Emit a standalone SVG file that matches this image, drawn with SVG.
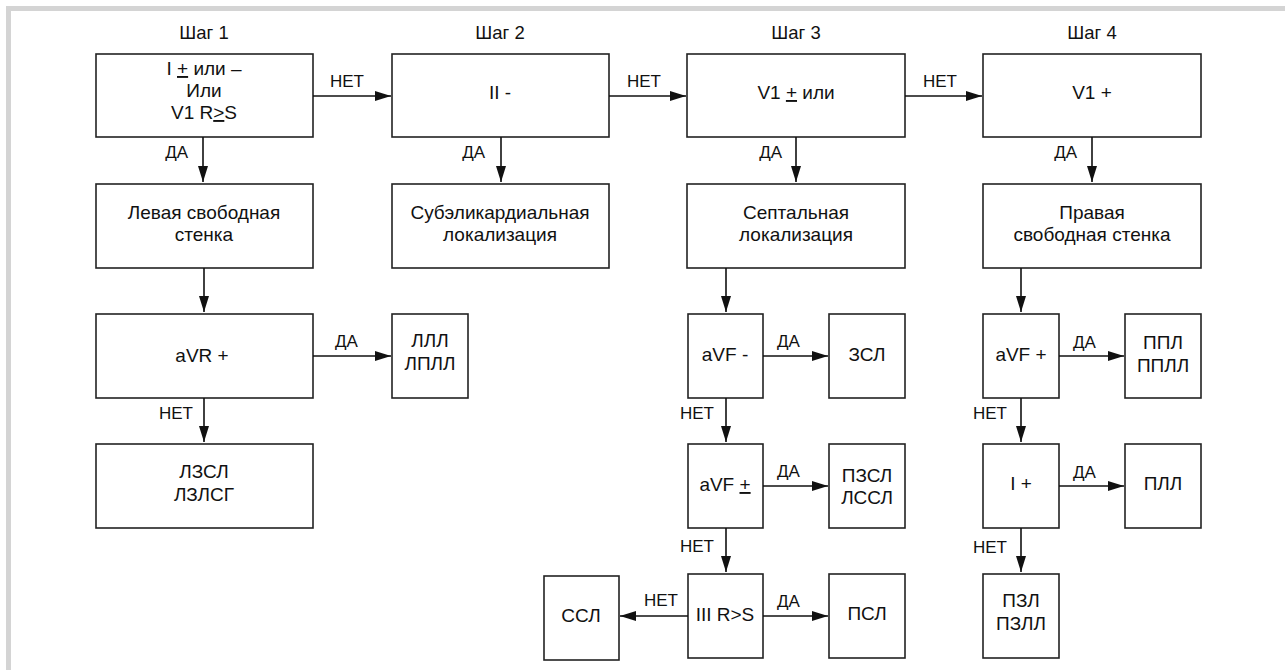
<svg xmlns="http://www.w3.org/2000/svg" width="1285" height="670" viewBox="0 0 1285 670">
<defs>
<style>
.box{fill:#fff;stroke:#222;stroke-width:1.6}
text{font-family:"Liberation Sans",Arial,sans-serif;font-size:19px;fill:#111}
.c{text-anchor:middle}
.e{text-anchor:end}
.l{font-size:17px}
.h{font-size:18.5px}
.u{text-decoration:underline}
.con line{stroke:#111;stroke-width:1.6;marker-end:url(#ah)}
</style>
<marker id="ah" markerWidth="16" markerHeight="10" refX="16" refY="5" orient="auto" markerUnits="userSpaceOnUse"><path d="M0,0 L16,5 L0,10 z" fill="#111"/></marker>
</defs>
<rect width="1285" height="670" fill="#fff"/>
<path d="M8.5,670 V8.5 H1285" fill="none" stroke="#d4d4d4" stroke-width="5"/>

<g id="headers">
<text class="c h" x="204" y="39">Шаг 1</text>
<text class="c h" x="500" y="39">Шаг 2</text>
<text class="c h" x="796" y="39">Шаг 3</text>
<text class="c h" x="1092" y="39">Шаг 4</text>
</g>

<g id="n1"><rect class="box" x="96" y="54" width="217" height="83"/>
<text class="c" x="204" y="75">I <tspan class="u">+</tspan> или –</text>
<text class="c" x="204" y="97">Или</text>
<text class="c" x="204" y="119">V1 R<tspan class="u">&gt;</tspan>S</text></g>
<g id="n2"><rect class="box" x="392" y="54" width="217" height="83"/><text class="c" x="500" y="99">II -</text></g>
<g id="n3"><rect class="box" x="687" y="54" width="218" height="83"/><text class="c" x="796" y="99">V1 <tspan class="u">+</tspan> или</text></g>
<g id="n4"><rect class="box" x="983" y="54" width="218" height="83"/><text class="c" x="1092" y="99">V1 +</text></g>

<g id="n5"><rect class="box" x="96" y="184" width="217" height="84"/><text class="c" x="204" y="219">Левая свободная</text><text class="c" x="204" y="241">стенка</text></g>
<g id="n6"><rect class="box" x="392" y="184" width="217" height="84"/><text class="c" x="500" y="219">Субэликардиальная</text><text class="c" x="500" y="241">локализация</text></g>
<g id="n7"><rect class="box" x="687" y="184" width="218" height="84"/><text class="c" x="796" y="219">Септальная</text><text class="c" x="796" y="241">локализация</text></g>
<g id="n8"><rect class="box" x="983" y="184" width="218" height="84"/><text class="c" x="1092" y="219">Правая</text><text class="c" x="1092" y="241">свободная стенка</text></g>

<g id="n9"><rect class="box" x="96" y="314" width="217" height="84"/><text class="c" x="202" y="362">aVR +</text></g>
<g id="n10"><rect class="box" x="392" y="314" width="76" height="84"/><text class="c" x="430" y="347">ЛЛЛ</text><text class="c" x="430" y="370">ЛПЛЛ</text></g>
<g id="n11"><rect class="box" x="96" y="444" width="217" height="84"/><text class="c" x="204" y="478">ЛЗСЛ</text><text class="c" x="204" y="501">ЛЗЛСГ</text></g>

<g id="n12"><rect class="box" x="688" y="314" width="75" height="84"/><text class="c" x="725" y="361">aVF -</text></g>
<g id="n13"><rect class="box" x="829" y="314" width="76" height="84"/><text class="c" x="867" y="361">ЗСЛ</text></g>
<g id="n14"><rect class="box" x="688" y="444" width="75" height="84"/><text class="c" x="725" y="491">aVF <tspan class="u">+</tspan></text></g>
<g id="n15"><rect class="box" x="829" y="444" width="76" height="84"/><text class="c" x="867" y="482">ПЗСЛ</text><text class="c" x="867" y="504">ЛССЛ</text></g>
<g id="n16"><rect class="box" x="688" y="574" width="75" height="84"/><text class="c" x="725" y="621">III R&gt;S</text></g>
<g id="n17"><rect class="box" x="829" y="574" width="76" height="84"/><text class="c" x="867" y="620">ПСЛ</text></g>
<g id="n18"><rect class="box" x="544" y="576" width="75" height="84"/><text class="c" x="581" y="622">ССЛ</text></g>

<g id="n19"><rect class="box" x="983" y="314" width="76" height="84"/><text class="c" x="1021" y="361">aVF +</text></g>
<g id="n20"><rect class="box" x="1125" y="314" width="76" height="84"/><text class="c" x="1163" y="349">ППЛ</text><text class="c" x="1163" y="372">ППЛЛ</text></g>
<g id="n21"><rect class="box" x="983" y="444" width="76" height="84"/><text class="c" x="1021" y="490">I +</text></g>
<g id="n22"><rect class="box" x="1125" y="444" width="76" height="84"/><text class="c" x="1163" y="490">ПЛЛ</text></g>
<g id="n23"><rect class="box" x="983" y="574" width="76" height="84"/><text class="c" x="1021" y="607">ПЗЛ</text><text class="c" x="1021" y="630">ПЗЛЛ</text></g>

<g id="connectors" class="con">
<line x1="313" y1="96" x2="391" y2="96"/>
<line x1="609" y1="96" x2="686" y2="96"/>
<line x1="905" y1="96" x2="982" y2="96"/>
<line x1="203" y1="137" x2="203" y2="182"/>
<line x1="501" y1="137" x2="501" y2="182"/>
<line x1="796" y1="137" x2="796" y2="182"/>
<line x1="1092" y1="137" x2="1092" y2="182"/>
<line x1="204" y1="268" x2="204" y2="312"/>
<line x1="726" y1="268" x2="726" y2="312"/>
<line x1="1021" y1="268" x2="1021" y2="312"/>
<line x1="313" y1="356" x2="391" y2="356"/>
<line x1="204" y1="398" x2="204" y2="442"/>
<line x1="763" y1="356" x2="828" y2="356"/>
<line x1="726" y1="398" x2="726" y2="442"/>
<line x1="763" y1="486" x2="828" y2="486"/>
<line x1="726" y1="528" x2="726" y2="572"/>
<line x1="763" y1="616" x2="828" y2="616"/>
<line x1="688" y1="616" x2="620" y2="616"/>
<line x1="1059" y1="356" x2="1124" y2="356"/>
<line x1="1021" y1="398" x2="1021" y2="442"/>
<line x1="1059" y1="486" x2="1124" y2="486"/>
<line x1="1021" y1="528" x2="1021" y2="572"/>
</g>

<g id="labels">
<text class="l" x="330" y="87">НЕТ</text>
<text class="l" x="627" y="87">НЕТ</text>
<text class="l" x="923" y="87">НЕТ</text>
<text class="l e" x="188" y="158">ДА</text>
<text class="l e" x="485" y="158">ДА</text>
<text class="l e" x="782" y="158">ДА</text>
<text class="l e" x="1077" y="158">ДА</text>
<text class="l" x="335" y="347">ДА</text>
<text class="l e" x="193" y="419">НЕТ</text>
<text class="l" x="777" y="347">ДА</text>
<text class="l e" x="714" y="419">НЕТ</text>
<text class="l" x="777" y="477">ДА</text>
<text class="l e" x="714" y="552">НЕТ</text>
<text class="l" x="777" y="607">ДА</text>
<text class="l e" x="678" y="606">НЕТ</text>
<text class="l" x="1073" y="348">ДА</text>
<text class="l e" x="1007" y="419">НЕТ</text>
<text class="l" x="1073" y="478">ДА</text>
<text class="l e" x="1007" y="553">НЕТ</text>
</g>
</svg>
